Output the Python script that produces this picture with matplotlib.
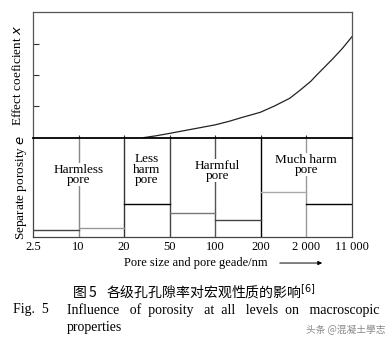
import numpy as np
import matplotlib.pyplot as plt

plt.rcParams['font.family'] = ['Liberation Serif', 'DejaVu Serif']

# ---- datos ----
pore_labels = ['2.5', '10', '20', '50', '100', '200', '2 000', '11 000']
# curva del coeficiente de efecto (x en posicion de categoria, y en unidades de 0 a 4)
curve_x = [2.42, 2.7, 3.01, 3.3, 3.67, 4.0, 4.3, 4.55, 4.77, 4.99, 5.3, 5.64, 5.86,
           6.1, 6.23, 6.4, 6.59, 6.8, 6.98, 7.0]
curve_y = [0.0, 0.06, 0.14, 0.22, 0.32, 0.41, 0.52, 0.63, 0.72, 0.81, 1.01, 1.26, 1.51,
           1.8, 2.0, 2.25, 2.53, 2.86, 3.18, 3.22]
# porosidad separada por intervalo (escala 0-99)
porosity = [6.7, 9.0, 32.4, 24.0, 16.4, 44.4, 32.4]
level_colors = ['#444444', '#999999', '#000000', '#777777', '#444444', '#aaaaaa', '#000000']
bound_colors = ['#888888', '#333333', '#444444', '#555555', '#000000', '#999999']
zones = ['Harmless\npore', 'Less\nharm\npore', 'Harmful\npore', 'Much harm\npore']
zone_pos = [1.0, 2.5, 4.05, 6.0]
zone_y = [62, 67, 66, 72]

fig = plt.figure(figsize=(3.91, 3.47), dpi=100)
ax1 = fig.add_axes([0.0844, 0.6032, 0.8151, 0.3608])
ax2 = fig.add_axes([0.0844, 0.3179, 0.8151, 0.2853])

# ---- panel superior ----
ax1.plot(curve_x, curve_y, color='#222222', lw=0.9)
ax1.set_xlim(0, 7)
ax1.set_ylim(0, 4)
ax1.set_yticks([1, 2, 3])
ax1.set_yticklabels([])
ax1.set_xticks(range(1, 7))
ax1.set_xticklabels([])
ax1.tick_params(axis='y', direction='in', length=4.5, width=0.8, color='#333333')
ax1.tick_params(axis='x', direction='in', length=2.5, width=0.8, color='#333333')
for s in ['left', 'top', 'right']:
    ax1.spines[s].set_color('#555555')
    ax1.spines[s].set_linewidth(0.9)
ax1.spines['bottom'].set_visible(False)
ax1.set_ylabel('Effect coeficient $x$', fontsize=9.5, labelpad=3)

# ---- panel inferior ----
ax2.set_xlim(0, 7)
ax2.set_ylim(0, 99)
for i, h in enumerate(porosity):
    ax2.plot([i, i + 1], [h, h], color=level_colors[i], lw=1.0)
for i in range(1, 7):
    ax2.axvline(i, color=bound_colors[i - 1], lw=1.0, zorder=1)
for txt, xp, yp in zip(zones, zone_pos, zone_y):
    ax2.text(xp, yp, txt, ha='center', va='center', fontsize=9.5, linespacing=0.8,
             bbox=dict(facecolor='white', edgecolor='none', pad=0.3), zorder=3)
ax2.set_yticks([])
ax2.set_xticks(range(8))
ax2.set_xticklabels(pore_labels, fontsize=9)
ax2.tick_params(axis='x', length=0, pad=3)
for s in ['left', 'bottom', 'right']:
    ax2.spines[s].set_color('#444444')
    ax2.spines[s].set_linewidth(0.9)
ax2.spines['top'].set_color('black')
ax2.spines['top'].set_linewidth(1.3)
ax2.set_ylabel('Separate porosity $e$', fontsize=9.5, labelpad=3)

# ---- textos inferiores ----
fig.text(196 / 391, 0.242, 'Pore size and pore geade/nm', ha='center', va='center',
         fontsize=9)
ax2.annotate('', xy=(325 / 391, 0.242), xytext=(277 / 391, 0.242),
             xycoords='figure fraction',
             arrowprops=dict(arrowstyle='-|>', color='black', lw=0.7,
                             mutation_scale=6))
fig.text(72 / 391, 1 - 292 / 347, '图 5   各级孔孔隙率对宏观性质的影响$^{[6]}$',
         ha='left', va='center', fontsize=10,
         family=['Noto Sans CJK SC', 'DejaVu Sans'])
fig.text(13 / 391, 1 - 310 / 347, 'Fig.  5', ha='left', va='center', fontsize=10)
fig.text(67 / 391, 1 - 310 / 347,
         'Influence   of  porosity   at  all   levels  on   macroscopic',
         ha='left', va='center', fontsize=10)
fig.text(67 / 391, 1 - 328 / 347, 'properties', ha='left', va='center', fontsize=10)
fig.text(385 / 391, 1 - 330 / 347, '头条 @混凝土學志', ha='right', va='center',
         fontsize=7, color='#888888', family=['Noto Sans CJK SC', 'DejaVu Sans'])

fig.savefig('out.png', dpi=100)
